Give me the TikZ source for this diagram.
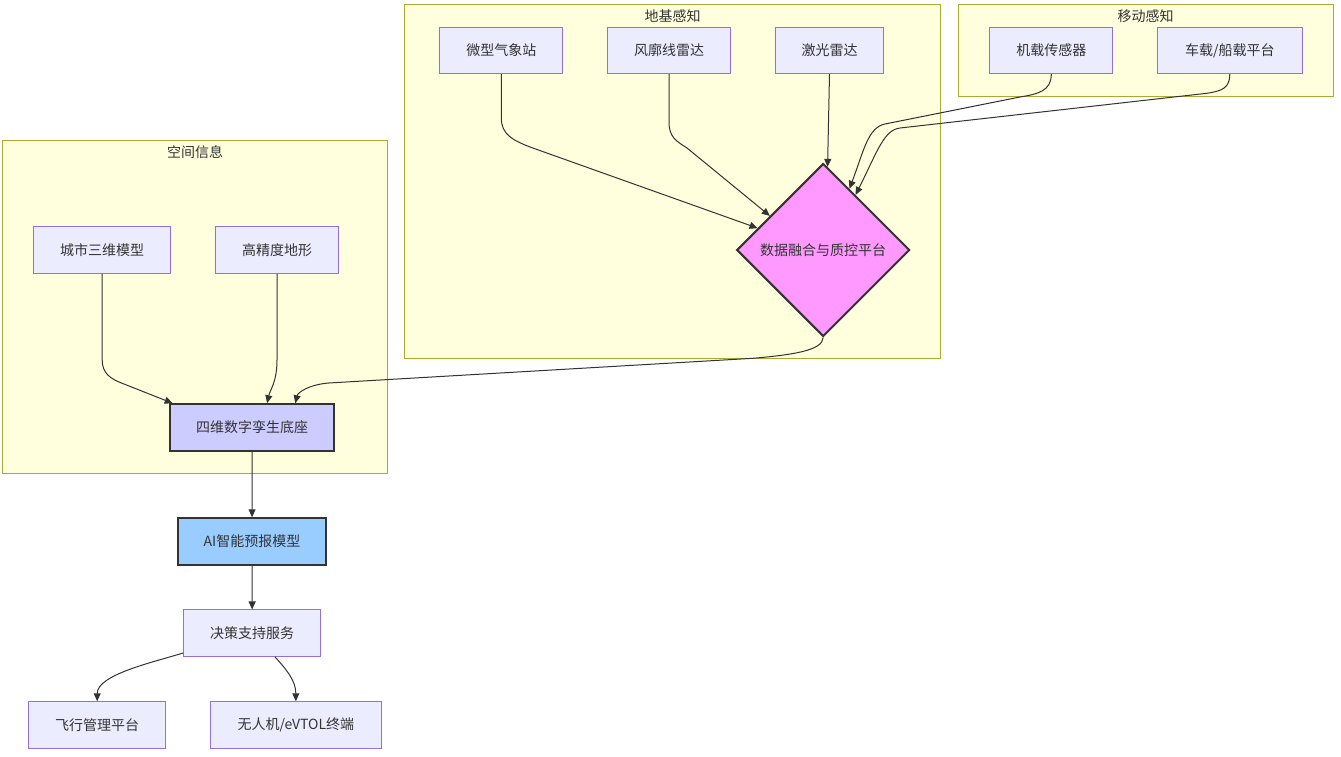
\documentclass[tikz,border=0pt]{standalone}
\usepackage{fontspec}
\setmainfont{Noto Sans CJK SC}
\usetikzlibrary{shapes.geometric,arrows.meta,calc}
\definecolor{clfill}{HTML}{FFFFDE}
\definecolor{cldraw}{HTML}{AAAA33}
\definecolor{nfill}{HTML}{ECECFF}
\definecolor{ndraw}{HTML}{9370DB}
\definecolor{txt}{HTML}{333333}
\definecolor{pinkf}{HTML}{FF99FF}
\definecolor{lavf}{HTML}{CCCCFF}
\definecolor{skyf}{HTML}{99CCFF}
\begin{document}
\begin{tikzpicture}[x=1pt,y=-1pt,
  every node/.style={font=\fontsize{14pt}{17pt}\selectfont, text=txt},
  nbox/.style={draw=ndraw, fill=nfill, line width=1pt, rectangle, inner sep=0pt, minimum height=46.5pt},
  hbox/.style={draw=txt, line width=2pt, rectangle, inner sep=0pt, minimum height=46.5pt},
  cluster/.style={draw=cldraw, fill=clfill, line width=1pt},
  ctitle/.style={inner sep=0pt},
  edge/.style={draw=txt, line width=1pt, -{Triangle[length=8pt,width=7pt]}},
]
\fill[white] (0,0) rectangle (1341,756);
\useasboundingbox (0,0) rectangle (1341,756);

% clusters
\draw[cluster] (404.5,4.5) rectangle (940.7,358.5);
\node[ctitle] (t1) at (672.6,16.5) {地基感知};
\draw[cluster] (958.3,4.5) rectangle (1333,96.3);
\node[ctitle] (t2) at (1145.7,16.5) {移动感知};
\draw[cluster] (2.7,140) rectangle (387.3,473);
\node[ctitle] (t3) at (195,152.5) {空间信息};

% nodes
\node[nbox, minimum width=123pt] (w) at (501.3,50.4) {微型气象站};
\node[nbox, minimum width=122.5pt] (f) at (669,50.4) {风廓线雷达};
\node[nbox, minimum width=108.7pt] (l) at (829.5,50.4) {激光雷达};
\node[nbox, minimum width=123pt] (m) at (1051.3,50.4) {机载传感器};
\node[nbox, minimum width=144.7pt] (v) at (1229.8,50.4) {车载/船载平台};
\node[diamond, aspect=1, draw=txt, fill=pinkf, line width=2pt, inner sep=0pt,
      minimum width=173pt, minimum height=173pt] (d) at (823.2,250) {数据融合与质控平台};

\node[nbox, minimum width=137.3pt] (c) at (102.2,250.2) {城市三维模型};
\node[nbox, minimum width=123pt] (h) at (277,250.2) {高精度地形};
\node[hbox, fill=lavf, minimum width=163.7pt] (t) at (252.2,427.5) {四维数字孪生底座};
\node[hbox, fill=skyf, minimum width=148.6pt] (ai) at (252,541.5) {AI智能预报模型};
\node[nbox, minimum width=136.7pt] (ds) at (252.2,633.2) {决策支持服务};
\node[nbox, minimum width=136.7pt] (fl) at (97.2,725) {飞行管理平台};
\node[nbox, minimum width=170.7pt] (uav) at (295.85,725) {无人机/eVTOL终端};

% anchor points
\coordinate (dA) at ($(d.west)!0.25!(d.north)$);
\coordinate (dB) at ($(d.west)!0.39!(d.north)$);
\coordinate (dC) at ($(d.north)!0.05!(d.east)$);
\coordinate (dD) at ($(d.north)!0.30!(d.east)$);
\coordinate (dE) at ($(d.north)!0.37!(d.east)$);
\coordinate (tA) at ($(t.north west)!0.02!(t.north east)$);
\coordinate (tB) at ($(t.north west)!0.76!(t.north east)$);
\coordinate (tC) at ($(t.north west)!0.59!(t.north east)$);
\coordinate (dsL) at ($(ds.south west)+(0,-4)$);
\coordinate (dsR) at ($(ds.south west)!0.666!(ds.south east)$);

% edges
\draw[edge] (w.south) -- (501.3,118) .. controls (501.3,134) and (512,140) .. (530,147) -- (dA);
\draw[edge] (f.south) -- (669,122) .. controls (669,137) and (676,141) .. (687,148) -- (dB);
\draw[edge] (l.south) -- (dC);
\draw[edge] (m.south) .. controls (1051.3,91) and (1038,94) .. (1020,97) -- (885,124) .. controls (868,127.5) and (864,150) .. (dD);
\draw[edge] (v.south) .. controls (1229.8,88) and (1222,91) .. (1206.7,93.3) -- (900,128) .. controls (884,130) and (878,150) .. (dE);
\draw[edge] (d.south) .. controls (822.8,351) and (790,355) .. (752.7,358.3) -- (328.6,383) .. controls (310,384.5) and (298,392) .. (tB);
\draw[edge] (c.south) -- (102.2,360) .. controls (102.2,373) and (110,379) .. (124,384) -- (tA);
\draw[edge] (h.south) -- (277,360) .. controls (277,382) and (270,390) .. (tC);
\draw[edge] (t) -- (ai);
\draw[edge] (ai) -- (ds);
\draw[edge] (dsL) .. controls (150,663) and (97.2,675) .. (fl.north);
\draw[edge] (dsR) .. controls (285,668) and (295.85,680) .. (uav.north);
\end{tikzpicture}
\end{document}
